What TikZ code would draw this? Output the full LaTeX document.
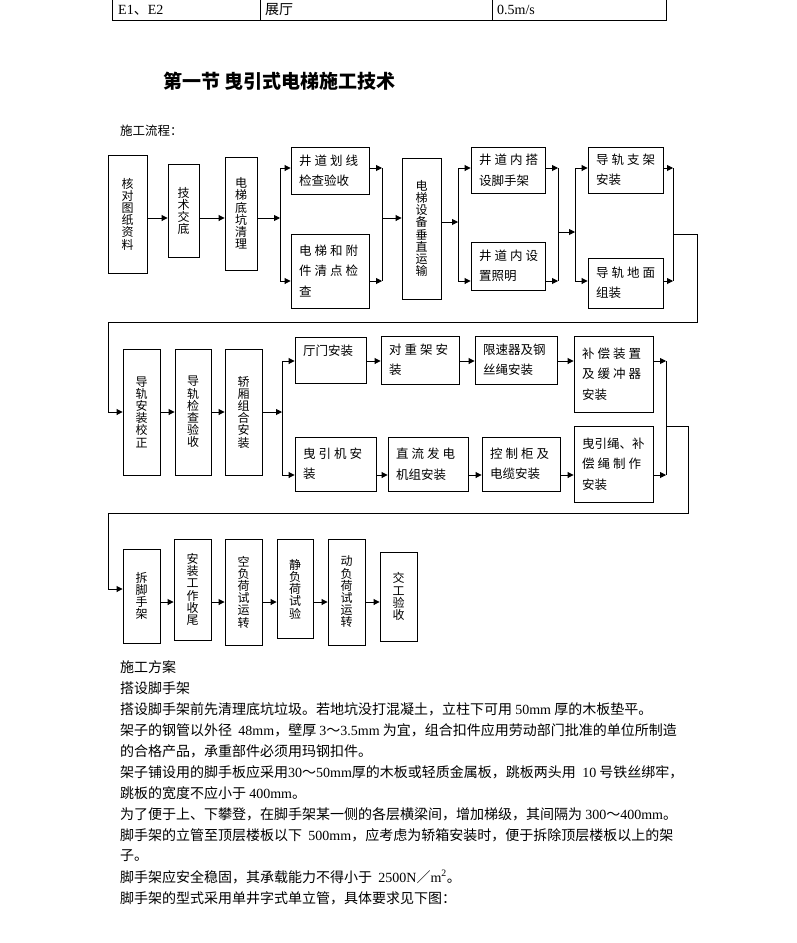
\documentclass[tikz,border=0pt]{standalone}
\usepackage{fontspec}
\setmainfont{Noto Sans CJK SC}
\newfontfamily\lat{Liberation Serif}
\usetikzlibrary{arrows.meta,positioning,calc}
\newcommand{\cjsp}{\kern3pt}

\begin{document}
\begin{tikzpicture}[x=1pt, y=-1pt,
        >={Triangle[length=6pt,width=6pt]},
        box/.style={draw, line width=0.9pt, inner sep=0pt},
        vbox/.style={box, align=center, font=\fontsize{12}{12.2}\selectfont},
        hbox/.style={box, align=left, inner xsep=8pt, font=\fontsize{12.5}{20.5}\selectfont},
        line/.style={->, line width=0.9pt},
        bus/.style={line width=0.9pt},
        txt/.style={anchor=west, inner sep=0pt, font=\fontsize{14}{14}\selectfont}]
    \useasboundingbox[fill=white] (0,0) rectangle (796,943);

    % table remnant
    \draw[line width=1pt] (112,0) -- (112,20) -- (666,20) -- (666,0);
    \draw[line width=1pt] (260,0) -- (260,20);
    \draw[line width=1pt] (492,0) -- (492,20);
    \node[txt] (c1) at (118,10) {{\lat E1}、{\lat E2}};
    \node[txt] (c2) at (265,10) {展厅};
    \node[txt] (c3) at (497,10) {\lat 0.5m/s};

    \node[anchor=west, inner sep=0pt, font=\fontsize{19}{19}\selectfont\bfseries] (title) at (163,81) {第一节 曳引式电梯施工技术};
    \node[anchor=west, inner sep=0pt, font=\fontsize{12.5}{12.5}\selectfont] (lc) at (120,131) {施工流程：};

    % row 1
    \node[vbox, minimum width=39pt, minimum height=118pt] (hd) at (127.5,214) {核\\对\\图\\纸\\资\\料};
    \node[vbox, minimum width=31pt, minimum height=93pt] (jd) at (183.5,211) {技\\术\\交\\底};
    \node[vbox, minimum width=32pt, minimum height=113pt] (dk) at (241,213.5) {电\\梯\\底\\坑\\清\\理};
    \node[hbox, text width=62pt, minimum height=47pt] (hx) at (330,170.5) {井\cjsp 道\cjsp 划\cjsp 线\\检查验收};
    \node[hbox, text width=62pt, minimum height=74pt] (qd) at (330,271) {电\cjsp 梯\cjsp 和\cjsp 附\\件\cjsp 清\cjsp 点\cjsp 检\\查};
    \node[vbox, minimum width=39pt, minimum height=141pt] (cy) at (421.5,228.5) {电\\梯\\设\\备\\垂\\直\\运\\输};
    \node[hbox, text width=58pt, minimum height=46pt] (dj) at (508,170) {井\cjsp 道\cjsp 内\cjsp 搭\\设脚手架};
    \node[hbox, text width=58pt, minimum height=48pt] (zm) at (508,266) {井\cjsp 道\cjsp 内\cjsp 设\\置照明};
    \node[hbox, text width=59pt, minimum height=46pt] (zj) at (625.5,170) {导\cjsp 轨\cjsp 支\cjsp 架\\安装};
    \node[hbox, text width=59pt, minimum height=50pt] (dm) at (625.5,283) {导\cjsp 轨\cjsp 地\cjsp 面\\组装};

    \coordinate (j1) at (280,218);
    \coordinate (j2) at (382,218);
    \coordinate (j3) at (458,222);
    \coordinate (j4) at (558,232);
    \coordinate (j5) at (575,232);
    \coordinate (j6) at (673,234);
    \coordinate (t1) at (0,168);
    \coordinate (u1) at (0,281);
    \foreach \j in {j1,j2,j3,j4,j5,j6}
        \draw[bus] (\j |- t1) -- (\j |- u1);
    \draw[line] (hd.east |- j1) -- (jd.west |- j1);
    \draw[line] (jd.east |- j1) -- (dk.west |- j1);
    \draw[line] (dk.east |- j1) -- (j1);
    \draw[line] (j1 |- t1) -- (hx.west |- t1);
    \draw[line] (j1 |- u1) -- (qd.west |- u1);
    \draw[line] (hx.east |- t1) -- (j2 |- t1);
    \draw[line] (qd.east |- u1) -- (j2 |- u1);
    \draw[line] (j2) -- (cy.west |- j2);
    \draw[line] (cy.east |- j3) -- (j3);
    \draw[line] (j3 |- t1) -- (dj.west |- t1);
    \draw[line] (j3 |- u1) -- (zm.west |- u1);
    \draw[line] (dj.east |- t1) -- (j4 |- t1);
    \draw[line] (zm.east |- u1) -- (j4 |- u1);
    \draw[line] (j4) -- (j5);
    \draw[line] (j5 |- t1) -- (zj.west |- t1);
    \draw[line] (j5 |- u1) -- (dm.west |- u1);
    \draw[line] (zj.east |- t1) -- (j6 |- t1);
    \draw[line] (dm.east |- u1) -- (j6 |- u1);

    % row 2
    \node[vbox, minimum width=37pt, minimum height=126pt] (jz) at (141.5,412) {导\\轨\\安\\装\\校\\正};
    \node[vbox, minimum width=36pt, minimum height=126pt] (jy) at (193,412) {导\\轨\\检\\查\\验\\收};
    \node[vbox, minimum width=37pt, minimum height=126pt] (jx) at (243.5,412) {轿\\厢\\组\\合\\安\\装};
    \node[hbox, text width=55pt, minimum height=46pt] (tm) at (330.5,360) {厅门安装\\~};
    \node[hbox, text width=62pt, minimum height=48pt] (dz) at (420,360) {对\cjsp 重\cjsp 架\cjsp 安\\装};
    \node[hbox, text width=66pt, minimum height=48pt] (xs) at (516,360) {限速器及钢\\丝绳安装};
    \node[hbox, text width=63pt, minimum height=76pt] (bc) at (613.5,374) {补\cjsp 偿\cjsp 装\cjsp 置\\及\cjsp 缓\cjsp 冲\cjsp 器\\安装};
    \node[hbox, text width=65pt, minimum height=54pt] (qy) at (335.5,464) {曳\cjsp 引\cjsp 机\cjsp 安\\装};
    \node[hbox, text width=64pt, minimum height=54pt] (fd) at (428,464) {直\cjsp 流\cjsp 发\cjsp 电\\机组安装};
    \node[hbox, text width=62pt, minimum height=54pt] (kz) at (521,464) {控\cjsp 制\cjsp 柜\cjsp 及\\电缆安装};
    \node[hbox, text width=63pt, minimum height=76pt] (ys) at (613.5,464) {曳引绳、补\\偿\cjsp 绳\cjsp 制\cjsp 作\\安装};

    \coordinate (w1) at (697,322);
    \coordinate (w2) at (108,412);
    \draw[line] (j6) -| (w1) -| (w2) -- (jz.west);
    \draw[line] (jz) -- (jy);
    \draw[line] (jy) -- (jx);
    \coordinate (j7) at (282,412);
    \coordinate (j8) at (666,426);
    \coordinate (t2) at (0,361);
    \coordinate (u2) at (0,475);
    \foreach \j in {j7,j8}
        \draw[bus] (\j |- t2) -- (\j |- u2);
    \draw[line] (jx) -- (j7);
    \draw[line] (j7 |- t2) -- (tm.west |- t2);
    \draw[line] (j7 |- u2) -- (qy.west |- u2);
    \foreach \p/\q in {tm/dz, dz/xs, xs/bc}
        \draw[line] (\p.east |- t2) -- (\q.west |- t2);
    \foreach \p/\q in {qy/fd, fd/kz, kz/ys}
        \draw[line] (\p.east |- u2) -- (\q.west |- u2);
    \draw[line] (bc.east |- t2) -- (j8 |- t2);
    \draw[line] (ys.east |- u2) -- (j8 |- u2);

    % row 3
    \node[vbox, minimum width=37pt, minimum height=94pt] (cj) at (141.5,596) {拆\\脚\\手\\架};
    \node[vbox, minimum width=37pt, minimum height=101pt] (sw) at (192.5,589.5) {安\\装\\工\\作\\收\\尾};
    \node[vbox, minimum width=37pt, minimum height=106pt] (kf) at (243.5,592) {空\\负\\荷\\试\\运\\转};
    \node[vbox, minimum width=36pt, minimum height=99pt] (jf) at (295,589) {静\\负\\荷\\试\\验};
    \node[vbox, minimum width=37pt, minimum height=106pt] (df) at (346.5,592) {动\\负\\荷\\试\\运\\转};
    \node[vbox, minimum width=37pt, minimum height=89pt] (jg) at (398.5,596.5) {交\\工\\验\\收};

    \coordinate (w3) at (688,513);
    \coordinate (w4) at (108,589);
    \draw[line] (j8) -| (w3) -| (w4) -- (cj.west |- w4);
    \coordinate (y3) at (0,602);
    \foreach \p/\q in {cj/sw, sw/kf, kf/jf, jf/df, df/jg}
        \draw[line] (\p.east |- y3) -- (\q.west |- y3);

    % text below
    \node[txt] (l1) at (120,667) {施工方案};
    \node[txt] (l2) at (120,688) {搭设脚手架};
    \node[txt] (l3) at (120,709) {搭设脚手架前先清理底坑垃圾。若地坑没打混凝土，立柱下可用 {\lat 50mm} 厚的木板垫平。};
    \node[txt] (l4) at (120,730) {架子的钢管以外径 \ {\lat 48mm}，壁厚 {\lat 3}～{\lat 3.5mm} 为宜，组合扣件应用劳动部门批准的单位所制造};
    \node[txt] (l5) at (120,751) {的合格产品，承重部件必须用玛钢扣件。};
    \node[txt] (l6) at (120,772) {架子铺设用的脚手板应采用{\lat 30}～{\lat 50mm}厚的木板或轻质金属板，跳板两头用 \ {\lat 10} 号铁丝绑牢，};
    \node[txt] (l7) at (120,793) {跳板的宽度不应小于 {\lat 400mm}。};
    \node[txt] (l8) at (120,814) {为了便于上、下攀登，在脚手架某一侧的各层横梁间，增加梯级，其间隔为 {\lat 300}～{\lat 400mm}。};
    \node[txt] (l9) at (120,835) {脚手架的立管至顶层楼板以下 \ {\lat 500mm}，应考虑为轿箱安装时，便于拆除顶层楼板以上的架};
    \node[txt] (l10) at (120,856) {子。};
    \node[txt] (l11) at (120,877) {脚手架应安全稳固，其承载能力不得小于 \ {\lat 2500N}／{\lat m\textsuperscript{2}}。};
    \node[txt] (l12) at (120,898) {脚手架的型式采用单井字式单立管，具体要求见下图：};
\end{tikzpicture}
\end{document}
